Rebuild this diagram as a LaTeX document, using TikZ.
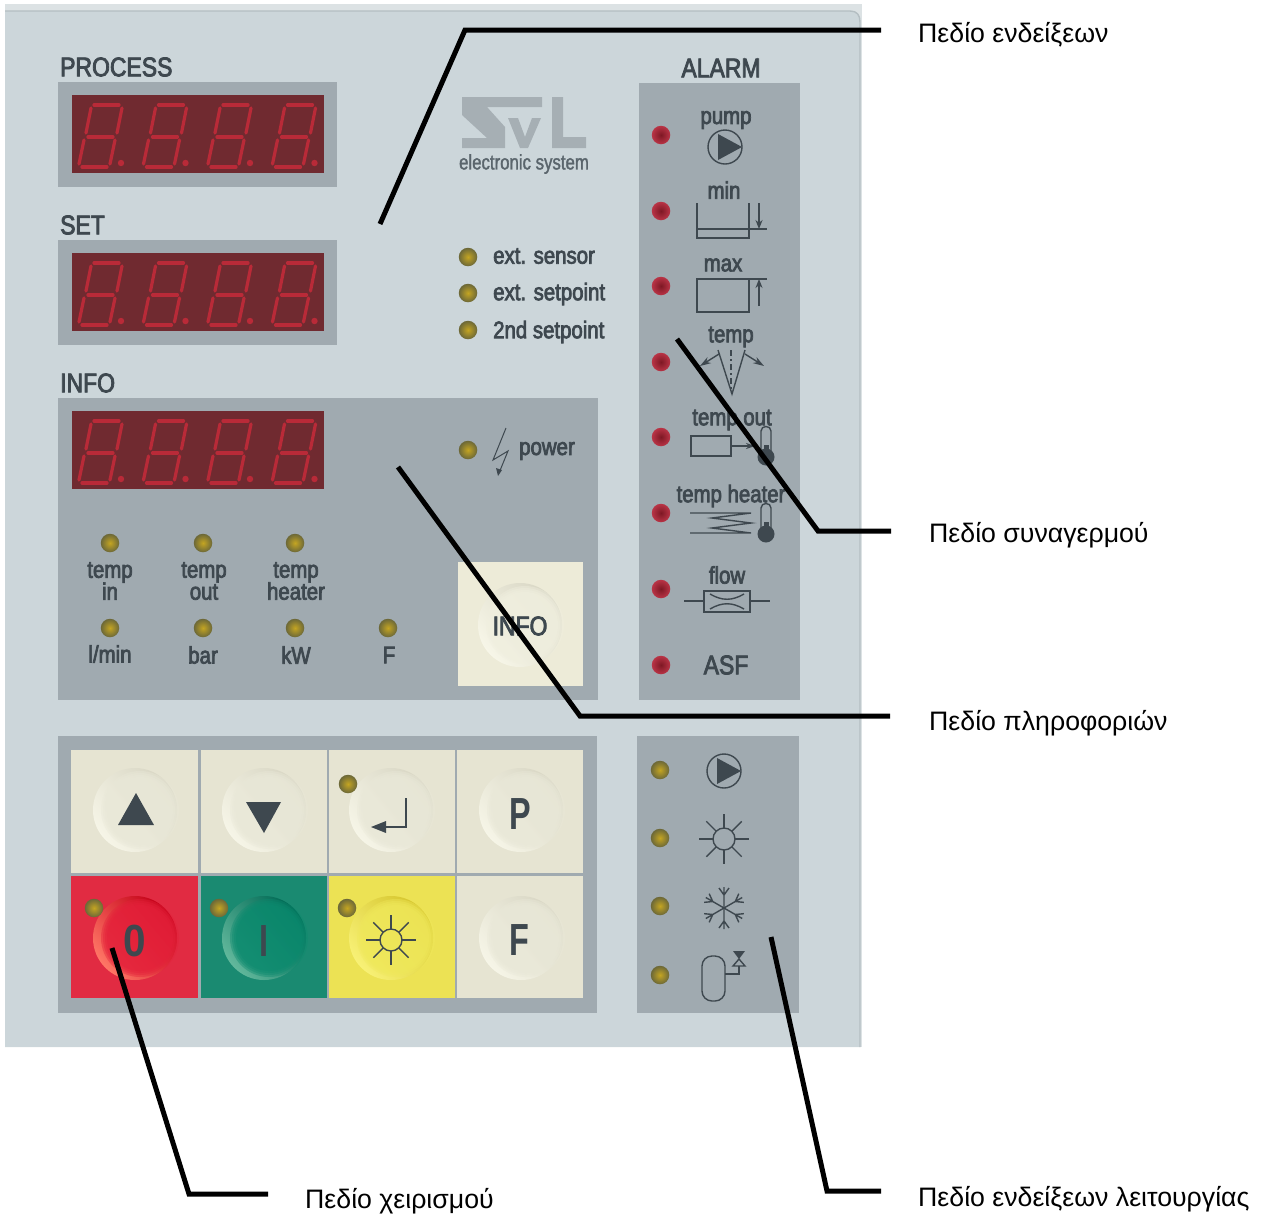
\documentclass[tikz,border=0pt]{standalone}
\usepackage{fontspec}
\usepackage{graphicx}
\setmainfont{Liberation Sans}
\newfontfamily\pfont[FakeStretch=0.85,FakeBold=3]{Liberation Sans}
\newfontfamily\kfont[FakeStretch=0.72]{Liberation Sans}
\newfontfamily\lfont[FakeStretch=0.8,FakeBold=1.5]{Liberation Sans}
\usetikzlibrary{arrows.meta}
\definecolor{ink}{HTML}{3E484F}
\definecolor{plate}{HTML}{CCD6DA}
\definecolor{frameg}{HTML}{A0AAB0}
\definecolor{dispred}{HTML}{702A30}
\definecolor{seg}{HTML}{B92A38}
\definecolor{keyc}{HTML}{E6E4D2}
\newcommand\hexc[1]{\definecolor{#1}{HTML}{#1}}
\hexc{DCE2E4}\hexc{B4BEC2}\hexc{A6AFB4}\hexc{5A656C}\hexc{C4A522}\hexc{6C6838}\hexc{7E1824}\hexc{B93446}
\hexc{EDEBD8}\hexc{F6F5E7}\hexc{D9D7C5}\hexc{E9E8D8}\hexc{FF7766}\hexc{C40018}\hexc{E4203A}\hexc{62B89C}
\hexc{006A55}\hexc{0B8A6E}\hexc{F8F176}\hexc{D6C62E}\hexc{EFE85A}\hexc{F7F6E8}\hexc{F0EFDF}
\hexc{E12B42}\hexc{1A8A71}\hexc{ECE254}
\newcommand\fs[1]{\fontsize{#1pt}{#1pt}\selectfont}
\tikzset{
  x=1pt,y=-1pt,
  ptxt/.style={inner sep=0pt,text=ink,font=\pfont\fs{24}},
  phead/.style={inner sep=0pt,text=ink,font=\pfont\fs{27}},
  keytxt/.style={inner sep=0pt,text=ink,font=\kfont\bfseries\fs{45}},
  greek/.style={inner sep=0pt,anchor=west,text=black,font=\fs{26.7}},
  ledy/.style={circle,inner sep=0pt,minimum size=18.5pt,inner color=C4A522,outer color=6C6838},
  ledr/.style={circle,inner sep=0pt,minimum size=18.5pt,inner color=7E1824,outer color=B93446},
  leader/.style={draw=black,line width=5pt,line join=miter,line cap=butt},
  icon/.style={draw=ink,line width=1.4pt},
  iconf/.style={fill=ink},
  pumpicon/.pic={
    \draw[icon] (0,0) circle[radius=17pt];
    \fill[iconf] (-7,-13) -- (17,0) -- (-7,13) -- cycle;
  },
  sunicon/.pic={
    \draw[icon] (0,0) circle[radius=11pt];
    \foreach \a in {0,45,...,315} \draw[icon] (\a:11pt) -- (\a:25pt);
  },
  thermo/.pic={
    \draw[icon] (-5,-26) -- (-5,-3) (5,-26) -- (5,-3) (-5,-26) .. controls (-5,-32) and (5,-32) .. (5,-26);
    \fill[iconf] (0,0) circle[radius=8.5pt];
    \fill[iconf] (-2.5,-12) rectangle (2.5,0);
  },
}
% seven-segment digit, anchored at its lower left corner
\newcommand\dig[2]{%
  \begin{scope}[shift={(#1,#2)},seg,line width=3.2pt,line cap=round]
    \draw (3,0) -- (28,0);
    \draw (9,-30) -- (34,-30);
    \draw (15,-62) -- (40,-62);
    \draw (0,-3) -- (5,-27);
    \draw (31,-3) -- (36,-27);
    \draw (7,-34) -- (12,-59);
    \draw (38,-34) -- (43,-59);
    \fill (42,-4) circle[radius=3.2pt];
  \end{scope}}
\newcommand\display[3]{% name, top, left
  \node[fill=dispred,inner sep=0pt,minimum width=252pt,minimum height=78pt,anchor=north west] (#1) at (#3,#2) {};
  \foreach \i in {0,1,2,3} \dig{#3+7+64.5*\i}{#2+72};
}
% name,x,y,light,dark,inner
\newcommand\domekey[6]{%
  \node[circle,inner sep=0pt,minimum size=84pt,top color=#5,bottom color=#4,shading angle=-50] (#1) at (#2,#3) {};
  \foreach \r in {39,37,35,33} \fill[#6,opacity=.4] (#2+5,#3) circle[radius=\r pt];
}
\begin{document}
\begin{tikzpicture}
\useasboundingbox (0,0) rectangle (1265,1216);
% plate
\fill[DCE2E4] (5,4) rectangle (862,1047);
\fill[plate] (5,11) -- (850,11) .. controls (857,11) and (860,15) .. (860,22) -- (860,1047) -- (5,1047) -- cycle;
\draw[B4BEC2,line width=1.4pt] (5,11) -- (850,11) .. controls (857,11) and (860,15) .. (860,22) -- (860,1047);
% panels
\fill[frameg] (58,82) rectangle (337,187);
\fill[frameg] (58,240) rectangle (337,345);
\fill[frameg] (58,398) rectangle (598,700);
\fill[frameg] (639,83) rectangle (800,700);
\fill[frameg] (58,736) rectangle (597,1013);
\fill[frameg] (637,736) rectangle (799,1013);
% headings
\node[phead,anchor=west] (hproc) at (60,67) {PROCESS};
\node[phead,anchor=west] (hset) at (60,225) {SET};
\node[phead,anchor=west] (hinfo) at (60,383) {INFO};
\node[phead] (halarm) at (721,68) {ALARM};
% displays
\display{dp}{95}{72}
\display{ds}{253}{72}
\display{di}{411}{72}
% logo
\fill[A6AFB4] (462,97) -- (542,97) -- (542,107) -- (487,107) -- (505,127) -- (505,148) -- (462,148) -- (462,138) -- (487,138) -- (462,115) -- cycle;
\fill[A6AFB4] (508,118) -- (518,118) -- (525,137) -- (532,118) -- (541,118) -- (528,148) -- (520,148) -- cycle;
\fill[A6AFB4] (552,97) -- (563,97) -- (563,137) -- (586,137) -- (586,148) -- (552,148) -- cycle;
\node[inner sep=0pt,text=5A656C,font=\lfont\fs{21}] (logotxt) at (524,164) {electronic system};
% ext leds
\node[ledy] (l1) at (468,257) {}; \node[ptxt,anchor=west] (t1) at (493,256) {ext. sensor};
\node[ledy] (l2) at (468,293) {}; \node[ptxt,anchor=west] (t2) at (493,294) {ext. setpoint};
\node[ledy] (l3) at (468,330) {}; \node[ptxt,anchor=west] (t3) at (493,332) {2nd setpoint};
% power
\node[ledy] (lp) at (468,450) {};
\draw[icon,line width=1pt] (506,428) -- (493,460) -- (508,451) -- (499,473);
\fill[iconf] (496,468) -- (502,470) -- (498,476) -- cycle;
\node[ptxt,anchor=west] (tp) at (519,451) {power};
% info leds
\node[ledy] (i1) at (110,543) {}; \node[ptxt,align=center] (it1) at (110,581) {temp\\[-2pt]in};
\node[ledy] (i2) at (203,543) {}; \node[ptxt,align=center] (it2) at (204,581) {temp\\[-2pt]out};
\node[ledy] (i3) at (295,543) {}; \node[ptxt,align=center] (it3) at (296,581) {temp\\[-2pt]heater};
\node[ledy] (i4) at (110,628) {}; \node[ptxt] (it4) at (110,654) {l/min};
\node[ledy] (i5) at (203,628) {}; \node[ptxt] (it5) at (203,655) {bar};
\node[ledy] (i6) at (295,628) {}; \node[ptxt] (it6) at (296,655) {kW};
\node[ledy] (i7) at (388,628) {}; \node[ptxt] (it7) at (389,655) {F};
% info key
\fill[EDEBD8] (458,562) rectangle (583,686);
\domekey{kinfo}{520}{625}{F7F6E8}{D9D7C5}{F0EFDF}
\node[phead] (kinfot) at (520,626) {INFO};
% alarm leds
\foreach \n/\y in {1/135,2/211,3/286,4/362,5/437,6/513,7/589,8/665}
  \node[ledr] (a\n) at (661,\y) {};
% alarm icons
\node[ptxt] (apump) at (726,120) {pump};
\pic at (725,147) {pumpicon};
\node[ptxt] (amin) at (724,190) {min};
\draw[icon] (697,203) -- (697,238) -- (749,238) -- (749,203) (697,229) -- (767,229);
\draw[icon,-{Stealth[length=9pt,width=7pt]}] (759,203) -- (759,229);
\node[ptxt] (amax) at (723,265) {max};
\draw[icon] (767,279) -- (697,279) -- (697,312) -- (749,312) -- (749,279);
\draw[icon,-{Stealth[length=9pt,width=7pt]}] (759,306) -- (759,279);
\node[ptxt] (atemp) at (731,337) {temp};
\draw[icon] (718,350) -- (732,394) -- (745,350);
\draw[icon,dash pattern=on 6pt off 3pt on 2pt off 3pt] (731,350) -- (731,392);
\draw[icon,-{Stealth[length=11pt,width=7pt]}] (719,354) -- (700,366);
\draw[icon,-{Stealth[length=11pt,width=7pt]}] (745,354) -- (764,366);
\node[ptxt] (atout) at (732,420) {temp out};
\draw[icon] (691,436) rectangle (731,456);
\draw[icon,-{Stealth[length=9pt,width=6pt]}] (731,446) -- (755,446);
\pic at (766,457) {thermo};
\node[ptxt] (ahet) at (731,496) {temp heater};
\draw[icon] (690,513) -- (751,513) -- (712,518) -- (751,523) -- (712,528) -- (751,533) -- (690,533);
\pic at (766,534) {thermo};
\node[ptxt] (aflow) at (727,575) {flow};
\draw[icon] (704,591) rectangle (750,612) (684,601) -- (704,601) (750,601) -- (770,601);
\draw[icon] (710,594) .. controls (722,601) and (732,601) .. (744,594);
\draw[icon] (710,609) .. controls (722,602) and (732,602) .. (744,609);
\node[phead] (aasf) at (726,665) {ASF};
% keypad
\foreach \n/\a/\b/\c/\d/\col in {ka/71/198/750/873/keyc,kb/201/327/750/873/keyc,kc/329/455/750/873/keyc,kd/457/583/750/873/keyc,ke/71/198/876/998/E12B42,kf/201/327/876/998/1A8A71,kg/329/455/876/998/ECE254,kh/457/583/876/998/keyc}
  \fill[\col] (\a,\c) rectangle (\b,\d);
\domekey{b1}{135}{810}{F6F5E7}{D9D7C5}{E9E8D8}
\domekey{b2}{264}{810}{F6F5E7}{D9D7C5}{E9E8D8}
\domekey{b3}{391}{810}{F6F5E7}{D9D7C5}{E9E8D8}
\domekey{b4}{521}{810}{F6F5E7}{D9D7C5}{E9E8D8}
\domekey{b5}{135}{938}{FF7766}{C40018}{E4203A}
\domekey{b6}{264}{938}{62B89C}{006A55}{0B8A6E}
\domekey{b7}{391}{938}{F8F176}{D6C62E}{EFE85A}
\domekey{b8}{521}{938}{F6F5E7}{D9D7C5}{E9E8D8}
\fill[iconf] (136,793) -- (154,825) -- (118,825) -- cycle;
\fill[iconf] (246,802) -- (281,802) -- (264,833) -- cycle;
\draw[icon,line width=2.6pt] (406,798) -- (406,827) -- (384,827);
\fill[iconf] (371,827) -- (386,821) -- (386,833) -- cycle;
\node[keytxt] (tP) at (520,814) {P};
\node[keytxt] (tF) at (519,940) {F};
\node[keytxt] (t0) at (135,941) {\scalebox{1.25}[1]{0}};
\node[keytxt] (tI) at (264,941) {I};
\pic at (391,940) {sunicon};
\node[ledy] (k1) at (348,784) {};
\node[ledy] (k2) at (94,908) {};
\node[ledy] (k3) at (219,908) {};
\node[ledy] (k4) at (347,908) {};
% mode panel
\foreach \n/\y in {1/770,2/838,3/906,4/975}
  \node[ledy] (m\n) at (660,\y) {};
\pic at (724,771) {pumpicon};
\pic at (724,839) {sunicon};
\foreach \a in {30,90,...,330} {
  \begin{scope}[shift={(724,908)},rotate=\a]
    \draw[icon] (0,0) -- (21,0) (13,0) -- (20,5) (13,0) -- (20,-5);
  \end{scope}
}
\draw[icon,rounded corners=10pt] (702,956) rectangle (725,1001);
\draw[icon] (725,974) -- (739,974) -- (739,966);
\fill[iconf] (733,951) -- (745,951) -- (739,959) -- cycle;
\draw[icon] (733,966) -- (745,966) -- (739,959) -- cycle;
% leaders
\coordinate (c1a) at (380,224); \coordinate (c1b) at (465,30); \coordinate (c1c) at (881,30);
\coordinate (c2a) at (677,339); \coordinate (c2b) at (818,531); \coordinate (c2c) at (891,531);
\coordinate (c3a) at (398,467); \coordinate (c3b) at (580,716); \coordinate (c3c) at (890,716);
\coordinate (c4a) at (112,948); \coordinate (c4b) at (189,1194); \coordinate (c4c) at (268,1194);
\coordinate (c5a) at (771,937); \coordinate (c5b) at (827,1191); \coordinate (c5c) at (881,1191);
\draw[leader] (c1a) -- (c1b) -- (c1c);
\draw[leader] (c2a) -- (c2b) -- (c2c);
\draw[leader] (c3a) -- (c3b) -- (c3c);
\draw[leader] (c4a) -- (c4b) -- (c4c);
\draw[leader] (c5a) -- (c5b) -- (c5c);
\node[greek] (g1) at (918,35) {Πεδίο ενδείξεων};
\node[greek] (g2) at (929,535) {Πεδίο συναγερμού};
\node[greek] (g3) at (929,723) {Πεδίο πληροφοριών};
\node[greek] (g4) at (305,1201) {Πεδίο χειρισμού};
\node[greek] (g5) at (918,1199) {Πεδίο ενδείξεων λειτουργίας};
\end{tikzpicture}
\end{document}
